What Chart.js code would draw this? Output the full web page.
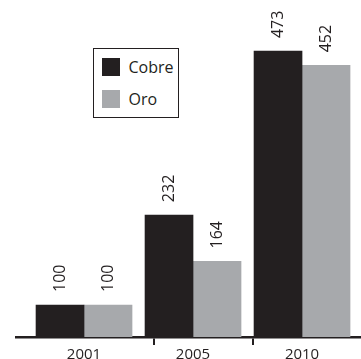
<!DOCTYPE html>
<html>
<head>
<meta charset="utf-8">
<script src="https://cdn.jsdelivr.net/npm/chart.js@4/dist/chart.umd.min.js"></script>
<style>
  html, body { margin: 0; padding: 0; background: #ffffff; }
  #wrap { position: relative; width: 361px; height: 359px; }
  #chart { position: absolute; left: 0; top: 0; }
  #legend {
    position: absolute; left: 93px; top: 48px; width: 86px; height: 70px;
    box-sizing: border-box; border: 1.5px solid #231f20; background: #fff;
    padding: 8.5px 0 0 7.5px;
    font-family: "Open Sans", sans-serif; font-size: 16px; color: #231f20;
  }
  .item { display: flex; align-items: center; height: 18px; margin-bottom: 14px; }
  .swatch { width: 18px; height: 18px; margin-right: 9px; flex: none; }
</style>
</head>
<body>
<div id="wrap">
  <canvas id="chart" width="361" height="359"></canvas>
  <div id="legend"></div>
</div>
<script>
// Production index (2001 = 100)
const years = ['2001', '2005', '2010'];
const cobre = [100, 232, 473];
const oro = [100, 164, 452];

const INK = '#231f20';
const GREY = '#a7a9ac';

const toPoints = arr => arr.map((v, i) => ({ x: i, y: v }));

// Rotated value labels above each bar
const valueLabels = {
  id: 'valueLabels',
  afterDatasetsDraw(chart) {
    const ctx = chart.ctx;
    ctx.save();
    ctx.fillStyle = INK;
    ctx.font = '16px "Open Sans", sans-serif';
    ctx.textAlign = 'left';
    ctx.textBaseline = 'middle';
    chart.data.datasets.forEach((ds, di) => {
      chart.getDatasetMeta(di).data.forEach((bar, i) => {
        ctx.save();
        ctx.translate(bar.x, bar.y - 13);
        ctx.rotate(-Math.PI / 2);
        ctx.fillText(String(ds.data[i].y), 0, 0);
        ctx.restore();
      });
    });
    ctx.restore();
  }
};

const chart = new Chart(document.getElementById('chart'), {
  type: 'bar',
  data: {
    datasets: [
      { label: 'Cobre', data: toPoints(cobre), backgroundColor: INK },
      { label: 'Oro', data: toPoints(oro), backgroundColor: GREY }
    ]
  },
  options: {
    responsive: false,
    animation: false,
    layout: { padding: { left: 16, right: 0, top: 0, bottom: 0 } },
    datasets: { bar: { barThickness: 48, borderWidth: 0 } },
    plugins: { legend: { display: false }, tooltip: { enabled: false } },
    scales: {
      x: {
        type: 'linear',
        min: -0.624,
        max: 2.541,
        offset: false,
        afterBuildTicks: s => {
          s.ticks = [0, 0.642, 1, 1.55, 2].map(v => ({ value: v }));
        },
        afterFit: s => { s.height = 22; },
        ticks: {
          autoSkip: false,
          maxRotation: 0,
          padding: 1,
          color: INK,
          font: { family: '"Open Sans", sans-serif', size: 15 },
          callback: v => Number.isInteger(v) ? years[v] : ''
        },
        grid: {
          display: true,
          offset: false,
          drawOnChartArea: false,
          drawTicks: true,
          tickLength: 8,
          lineWidth: 2,
          color: c => (c.tick && Number.isInteger(c.tick.value)) ? 'rgba(0,0,0,0)' : INK
        },
        border: { display: true, color: INK, width: 2.5 }
      },
      y: {
        display: false,
        min: 53,
        max: 548
      }
    }
  },
  plugins: [valueLabels]
});

// Boxed legend built from the chart's datasets
const legend = document.getElementById('legend');
chart.data.datasets.forEach(ds => {
  const row = document.createElement('div');
  row.className = 'item';
  const sw = document.createElement('span');
  sw.className = 'swatch';
  sw.style.background = ds.backgroundColor;
  const tx = document.createElement('span');
  tx.textContent = ds.label;
  row.appendChild(sw);
  row.appendChild(tx);
  legend.appendChild(row);
});
</script>
</body>
</html>
